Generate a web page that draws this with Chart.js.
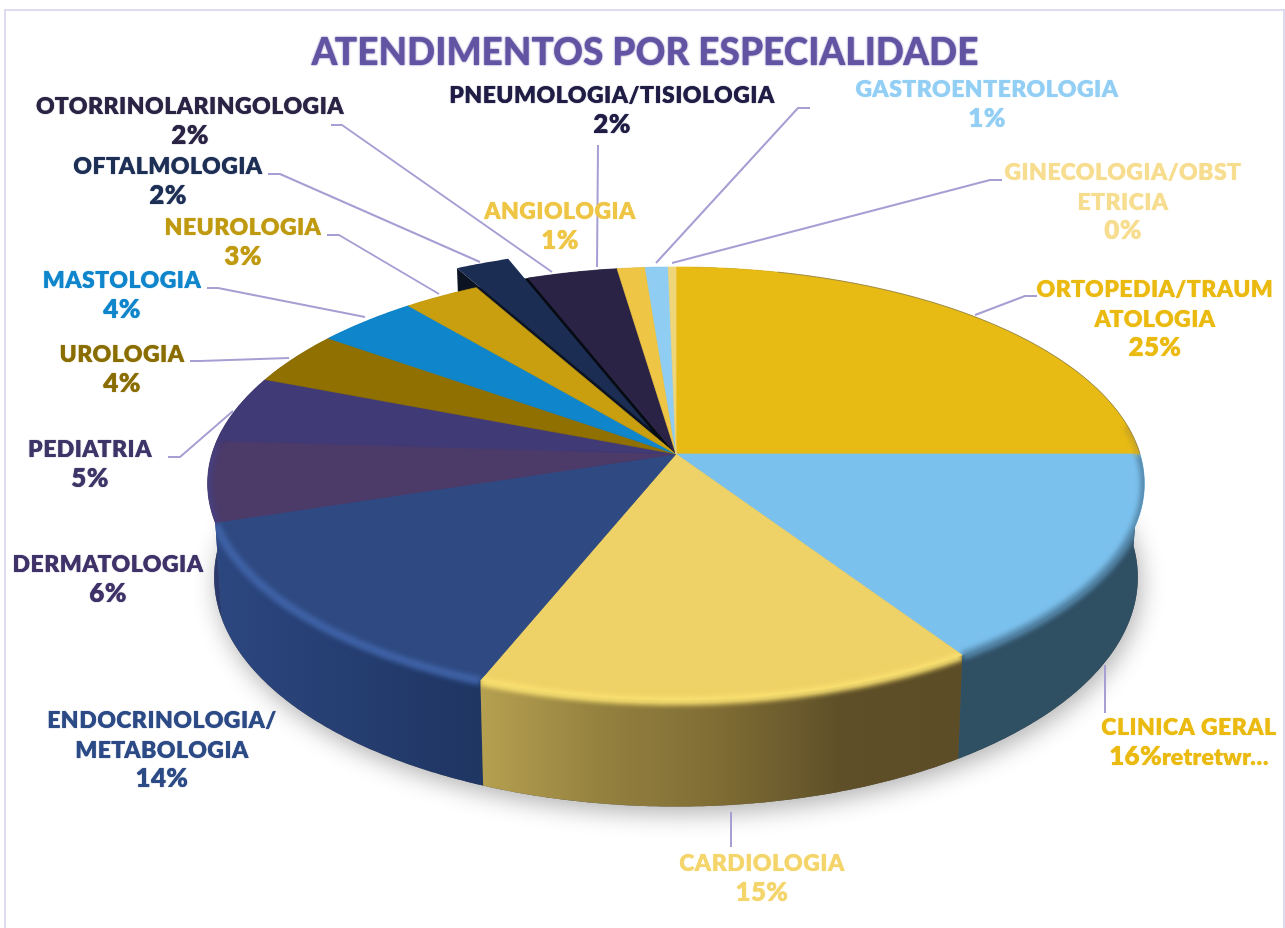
<!DOCTYPE html>
<html lang="pt">
<head>
<meta charset="utf-8">
<title>Atendimentos por especialidade</title>
<script src="https://cdn.jsdelivr.net/npm/chart.js@4/dist/chart.umd.min.js"></script>
<style>
html,body{margin:0;padding:0;background:#fff;overflow:hidden}
#frame{position:absolute;left:4px;top:9px;width:1277px;height:940px;border:2px solid #dddbf0}
#c{position:absolute;left:0;top:0}
</style>
</head>
<body>
<div id="frame"></div>
<canvas id="c" width="1285" height="928"></canvas>
<script>
// ---- data ----
const categories = ['ORTOPEDIA/TRAUMATOLOGIA','CLINICA GERAL','CARDIOLOGIA','ENDOCRINOLOGIA/METABOLOGIA','DERMATOLOGIA','PEDIATRIA','UROLOGIA','MASTOLOGIA','NEUROLOGIA','OFTALMOLOGIA','OTORRINOLARINGOLOGIA','PNEUMOLOGIA/TISIOLOGIA','ANGIOLOGIA','GASTROENTEROLOGIA','GINECOLOGIA/OBSTETRICIA'];
const values = [25,15.8,15.2,14,6,5,4,4,3,2.15,1.95,1.6,1.1,0.9,0.3];
const valueLabels = ['25%','16%','15%','14%','6%','5%','4%','4%','3%','2%','2%','2%','1%','1%','0%'];
const valueSuffixes = ['','retretwr…','','','','','','','','','','','','',''];
const labelLines = [['ORTOPEDIA/TRAUM','ATOLOGIA'],['CLINICA GERAL'],['CARDIOLOGIA'],['ENDOCRINOLOGIA/','METABOLOGIA'],['DERMATOLOGIA'],['PEDIATRIA'],['UROLOGIA'],['MASTOLOGIA'],['NEUROLOGIA'],['OFTALMOLOGIA'],['OTORRINOLARINGOLOGIA'],['PNEUMOLOGIA/TISIOLOGIA'],['ANGIOLOGIA'],['GASTROENTEROLOGIA'],['GINECOLOGIA/OBST','ETRICIA']];
const chartTitle = 'ATENDIMENTOS POR ESPECIALIDADE';

// ---- styles ----
const topColors = ['#e8ba14','#7bc1ee','#efd267','#2f4a82','#4c3a69','#403a76','#8f7000','#0f85cb','#c99f0f','#1b2d52','#2b2345','#2b2345','#eec544','#8fcdf3','#f0d67a'];
const wallStops = [['#2f4f63','#2f4f63'],['#2f4f63','#2f4f63'],['#b5a050','#94813f','#7f6c34','#5e4f28','#5c4d27'],['#2c4780','#1f3562'],['#2a3a6e','#2a3a6e'],['#33305c','#33305c'],['#5f4b00','#5f4b00'],['#0a5a8c','#0a5a8c'],['#8a7010','#8a7010'],['#0c1424','#0c1424'],['#171228','#171228'],['#171228','#171228'],['#a08430','#a08430'],['#5f8ba8','#5f8ba8'],['#a8965a','#a8965a']];
const edgeColors = ['#c9a522','#5588ab','#f9e070','#3f63a8','#46407e','#403a76','#8f7000','#0f85cb','#c99f0f','#1b2d52','#2b2345','#2b2345','#eec544','#8fcdf3','#f0d67a'];
const labelColors = ['#ebba10','#ebba10','#f4d56c','#2c4a85','#3f3268','#3d3568','#8a6d00','#0f85cb','#bf9a10','#1d2f55','#2a2344','#1f1d45','#eec544','#93cff5','#f7dd8f'];
const sliceOffsets = [0,0,0,0,0,0,0,0,0,51,0,0,0,0,0];
const titleColor = '#6253a3';

// ---- layout (page pixels): centre x and first baseline of each label, and its leader line ----
const labelCenters = [1155,1189,762,162,108,90,122,122,243,168,190,612,560,987,1123];
const labelBaselines = [297,735,871,728,572,457,362,288,235,174,114,103,219,97,180];
const lineStep = 29.5;
const leaders = [
  [[975,315],[1025,296],[1037,296]],[[1105,665],[1105,713]],[[731,812],[731,847]],null,null,
  [[168,457],[180,457],[233,411]],[[190,361],[200,361],[289,358]],[[207,288],[218,288],[365,317]],
  [[327,235],[339,235],[439,294]],[[268,174],[280,174],[480,262]],[[331,125],[342,125],[552,272]],
  [[597,267],[598,145]],null,[[656,263],[798,108],[810,108]],[[672,263],[990,180],[1002,180]]
];

// perspective of the disc
const CX=676, CY=454, RX=464, RY=212.5, K=0.1363, DEPTH=92, BASE_SCALE=0.986;
function proj(u,v){const w=1-K*v; return {x:CX+RX*u/w, y:CY+RY*v/w, w:w};}
function arcPts(s,e,du,dv){
  const pts=[], n=Math.max(2,Math.ceil((e-s)/(Math.PI/360)));
  for(let i=0;i<=n;i++){const t=s+(e-s)*i/n; pts.push(proj(Math.cos(t)+du,Math.sin(t)+dv));}
  return pts;
}
const low=p=>({x:CX+(p.x-CX)*BASE_SCALE,y:p.y+DEPTH/p.w});
function poly(ctx,pts){ctx.beginPath();pts.forEach((p,i)=>i?ctx.lineTo(p.x,p.y):ctx.moveTo(p.x,p.y));ctx.closePath();}

const pie3d = {
  id:'pie3d',
  beforeDraw(chart){
    // slight thickening of the title glyphs
    chart.ctx.shadowColor=titleColor;chart.ctx.shadowBlur=2;
  },
  beforeDatasetsDraw(chart){
    const ctx=chart.ctx, arcs=chart.getDatasetMeta(0).data;
    ctx.shadowColor='transparent';ctx.shadowBlur=0;
    const g=arcs.map((a,i)=>{
      const off=(sliceOffsets[i]||0)/a.outerRadius, m=(a.startAngle+a.endAngle)/2;
      const du=off*Math.cos(m), dv=off*Math.sin(m);
      const pts=arcPts(a.startAngle,a.endAngle,du,dv);
      return {i,m,off,du,dv,pts,base:pts.map(low),apex:proj(du,dv),start:a.startAngle,end:a.endAngle};
    });
    ctx.save();
    // soft ground shadow
    ctx.save();
    ctx.shadowColor='rgba(0,0,0,0.3)';ctx.shadowBlur=24;ctx.shadowOffsetX=3;ctx.shadowOffsetY=7;
    ctx.fillStyle='#555';
    poly(ctx,arcPts(0,Math.PI*2,0,0).map(low));ctx.fill();
    ctx.restore();
    // outer walls
    const wallFill=s=>{
      const stops=wallStops[s.i], xs=s.pts.map(p=>p.x);
      const gr=ctx.createLinearGradient(Math.min(...xs),0,Math.max(...xs),0);
      stops.forEach((c,k)=>gr.addColorStop(k/(stops.length-1),c));
      return gr;
    };
    g.filter(s=>!s.off).sort((a,b)=>Math.sin(a.m)-Math.sin(b.m)).forEach(s=>{
      ctx.fillStyle=wallFill(s);
      poly(ctx,s.pts.concat(s.base.slice().reverse()));ctx.fill();
    });
    // pulled-out slice: dark hole, cut wall, top
    g.filter(s=>s.off).forEach(s=>{
      ctx.fillStyle='#070b14';
      poly(ctx,[proj(0,0)].concat(arcPts(s.start,s.end,0,0)));ctx.fill();
      const outer=s.pts[0];
      ctx.fillStyle=wallStops[s.i][0];
      poly(ctx,[s.apex,outer,low(outer),low(s.apex)]);ctx.fill();
      ctx.fillStyle=topColors[s.i];
      poly(ctx,[s.apex].concat(s.pts));ctx.fill();
    });
    // tops of the seated slices
    g.filter(s=>!s.off).forEach(s=>{
      ctx.fillStyle=topColors[s.i];ctx.strokeStyle=topColors[s.i];ctx.lineWidth=0.7;
      poly(ctx,[s.apex].concat(s.pts));ctx.fill();ctx.stroke();
    });
    // rounded bevel on the near rim
    g.filter(s=>!s.off&&s.i<6).forEach(s=>{
      ctx.save();
      const clip=new Path2D();
      [[s.apex].concat(s.pts),s.pts.concat(s.base.slice().reverse())].forEach(pp=>{
        pp.forEach((p,k)=>k?clip.lineTo(p.x,p.y):clip.moveTo(p.x,p.y));clip.closePath();
      });
      ctx.clip(clip);
      ctx.filter='blur(2.5px)';
      ctx.strokeStyle=edgeColors[s.i];ctx.lineWidth=8;
      const inner=s.pts.filter(p=>(p.y>CY-30));
      ctx.beginPath();inner.forEach((p,k)=>k?ctx.lineTo(p.x,p.y+1):ctx.moveTo(p.x,p.y+1));ctx.stroke();
      ctx.restore();
    });
    // thin grey line along the far rim
    ctx.strokeStyle='rgba(110,110,110,0.55)';ctx.lineWidth=1;
    ctx.beginPath();
    arcPts(Math.PI*1.58,Math.PI*2,0,0).forEach((p,k)=>k?ctx.lineTo(p.x,p.y):ctx.moveTo(p.x,p.y));
    ctx.stroke();
    ctx.restore();
    return false; // the slices above replace the flat drawing
  },
  afterDraw(chart){
    const ctx=chart.ctx;
    ctx.save();
    ctx.shadowColor='transparent';ctx.shadowBlur=0;
    ctx.strokeStyle='#a79fd4';ctx.lineWidth=2;ctx.lineJoin='round';
    leaders.forEach(l=>{
      if(!l)return;
      ctx.beginPath();l.forEach((p,k)=>k?ctx.lineTo(p[0],p[1]):ctx.moveTo(p[0],p[1]));ctx.stroke();
    });
    ctx.textBaseline='alphabetic';
    const nameFont='800 23px Lato, sans-serif', valueFont='800 26px Lato, sans-serif';
    categories.forEach((c,i)=>{
      ctx.fillStyle=labelColors[i];
      ctx.shadowColor=labelColors[i];ctx.shadowBlur=1;
      let y=labelBaselines[i];
      ctx.textAlign='center';ctx.font=nameFont;ctx.letterSpacing='0.45px';
      labelLines[i].forEach(t=>{ctx.fillText(t,labelCenters[i],y);y+=lineStep;});
      // value line: large number plus any trailing text at the name size
      ctx.letterSpacing='0.3px';
      ctx.font=valueFont;
      const w1=ctx.measureText(valueLabels[i]).width;
      ctx.font=nameFont;
      const w2=valueSuffixes[i]?ctx.measureText(valueSuffixes[i]).width:0;
      const x0=labelCenters[i]-(w1+w2)/2;
      ctx.textAlign='left';
      ctx.font=valueFont;ctx.fillText(valueLabels[i],x0,y);
      if(w2){ctx.font=nameFont;ctx.fillText(valueSuffixes[i],x0+w1,y);}
    });
    ctx.restore();
  }
};

new Chart(document.getElementById('c'),{
  type:'pie',
  data:{labels:categories,datasets:[{data:values,backgroundColor:topColors,offset:sliceOffsets,borderWidth:0}]},
  options:{
    responsive:false,animation:false,
    layout:{padding:{left:5}},
    plugins:{
      legend:{display:false},tooltip:{enabled:false},
      title:{display:true,fullSize:false,text:chartTitle,color:titleColor,font:{family:'Lato, sans-serif',size:37,weight:'900'},padding:{top:31,bottom:8}}
    }
  },
  plugins:[pie3d]
});
</script>
</body>
</html>
